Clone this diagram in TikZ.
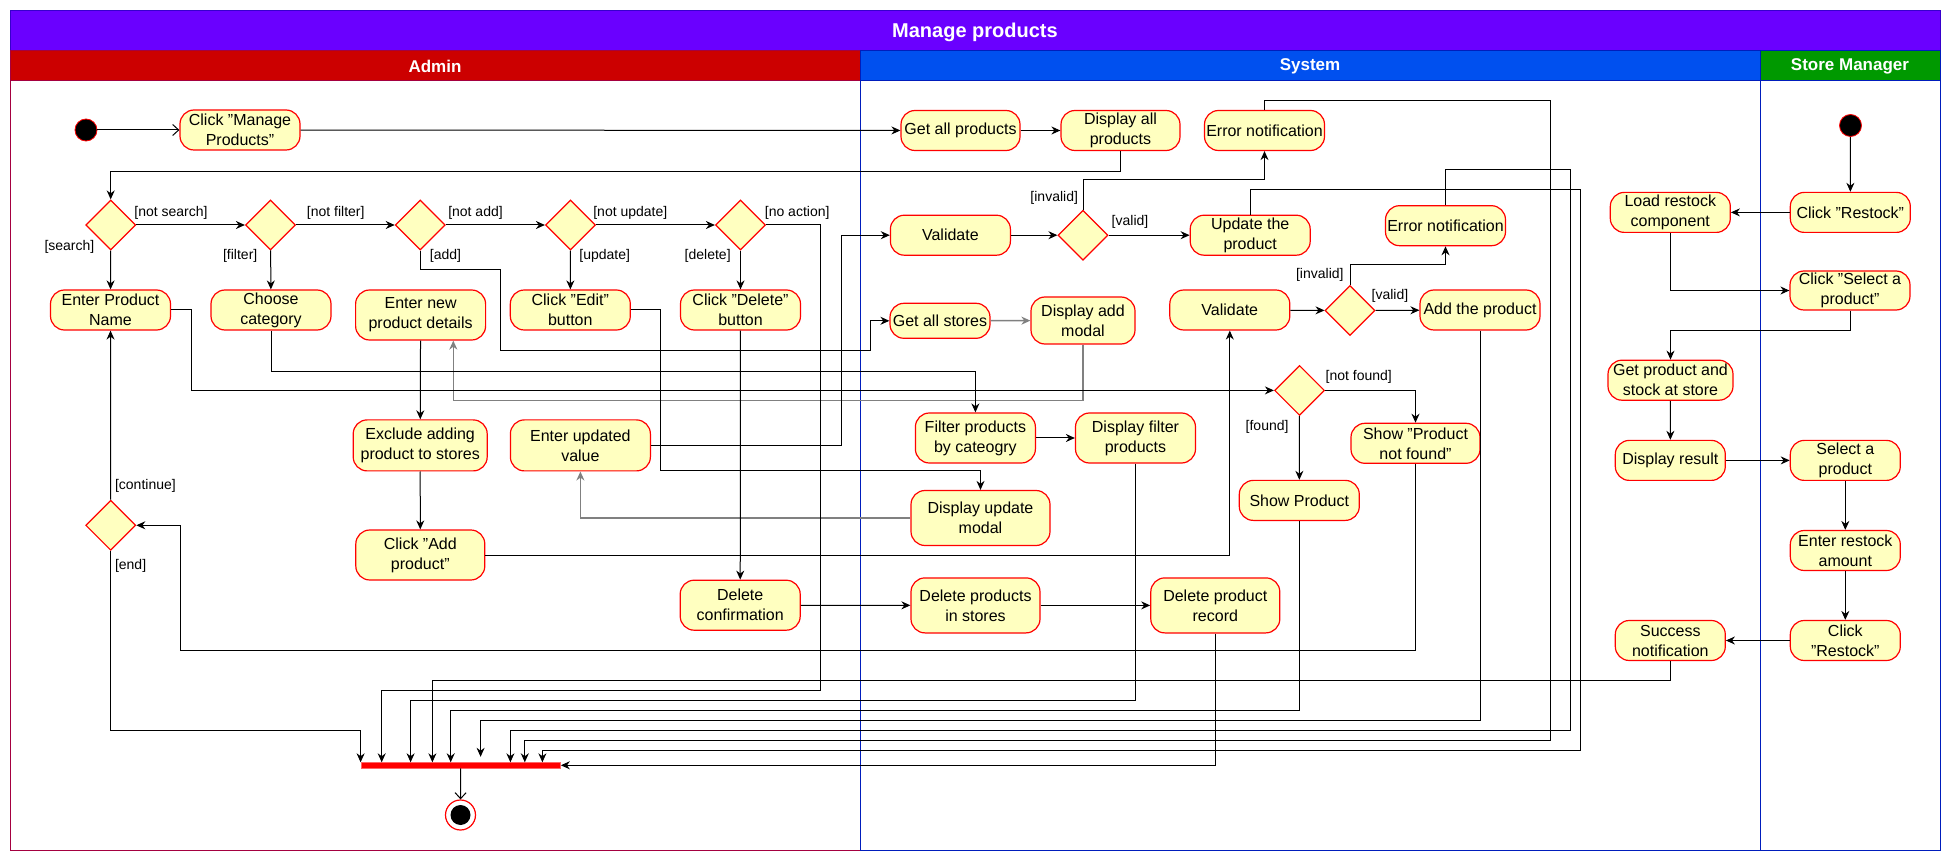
\documentclass[tikz,border=0pt]{standalone}
\usepackage{fontspec}
\setmainfont{Liberation Sans}
\usepackage{tikz}
\usetikzlibrary{shapes.geometric, arrows.meta, calc}
\usepackage{xcolor}
\definecolor{titleviolet}{RGB}{106,0,255}
\definecolor{titleline}{RGB}{55,0,204}
\definecolor{adminred}{RGB}{204,0,0}
\definecolor{adminline}{RGB}{165,0,64}
\definecolor{sysblue}{RGB}{0,80,239}
\definecolor{sysline}{RGB}{0,29,188}
\definecolor{mgrgreen}{RGB}{0,153,0}
\definecolor{actfill}{RGB}{255,255,192}
\tikzset{
    act/.style={draw=red, fill=actfill, rounded corners=7pt, align=center, inner sep=0.5pt,
        minimum width=60pt, minimum height=20pt, line width=0.6pt, font=\fontsize{8}{10}\selectfont},
    choice/.style={diamond, draw=red, fill=actfill, minimum width=25pt, minimum height=25pt,
        inner sep=0pt, line width=0.6pt},
    init/.style={circle, draw=red, fill=black, minimum size=11pt, inner sep=0pt},
    final/.style={circle, draw=red, fill=white, minimum size=15pt, inner sep=0pt, line width=0.6pt},
    bar/.style={fill=red, draw=red!60, minimum width=99.75pt, minimum height=2.6pt, inner sep=0pt},
    flow/.style={draw, line width=0.5pt, -{Stealth[length=4.5pt, width=4pt]}},
    grayflow/.style={flow, draw=gray, line width=0.8pt},
    openflow/.style={draw, line width=0.5pt, -{Straight Barb[length=3pt, width=5.5pt]}},
    lbl/.style={font=\fontsize{7}{8}\selectfont, inner sep=1pt},
    lanehead/.style={text=white, font=\bfseries\fontsize{8.5}{10}\selectfont}
}

\begin{document}
\begin{tikzpicture}[x=0.5pt, y=-0.5pt]
    \useasboundingbox (0,0) rectangle (1951,861);

    % Raias
    \draw[titleline, fill=titleviolet] (10,10) rectangle (1940,50);
    \draw[adminline, fill=adminred] (10,50) rectangle (860,80);
    \draw[adminline] (10,80) rectangle (860,850);
    \draw[sysline, fill=sysblue] (860,50) rectangle (1760,80);
    \draw[sysline] (860,80) rectangle (1760,850);
    \draw[sysline, fill=mgrgreen] (1760,50) rectangle (1940,80);
    \draw[sysline] (1760,80) rectangle (1940,850);
    \node[lanehead, font=\bfseries\fontsize{10}{12}\selectfont] (title) at (975,32) {Manage products};
    \node[lanehead] (hadmin) at (435,66) {Admin};
    \node[lanehead] (hsystem) at (1310,66) {System};
    \node[lanehead] (hmanager) at (1850,66) {Store Manager};

    % Admin
    \node[init] (start) at (86,130) {};
    \node[act] (clickmp) at (240,130) {Click "Manage\\Products"};
    \node[choice] (dsearch) at (110.7,225) {};
    \node[choice] (dfilter) at (270.5,225) {};
    \node[choice] (dadd) at (420.3,225) {};
    \node[choice] (dupdate) at (570.5,225) {};
    \node[choice] (ddelete) at (740.5,225) {};
    \node[act] (enterpn) at (110.5,310) {Enter Product\\Name};
    \node[act] (choosecat) at (271,310) {Choose\\category};
    \node[act, minimum width=65pt, minimum height=25pt] (enternew) at (420.6,315) {Enter new\\product details};
    \node[act] (clickedit) at (570.3,310) {Click "Edit"\\button};
    \node[act] (clickdel) at (740.5,310) {Click "Delete"\\button};
    \node[act, minimum width=67pt, minimum height=25.5pt] (exclude) at (420.2,445.4) {Exclude adding\\product to stores};
    \node[act, minimum width=70pt, minimum height=25.5pt] (enterupd) at (580.4,445.4) {Enter updated\\value};
    \node[act, minimum width=64.5pt, minimum height=25pt] (clickadd) at (420.3,555) {Click "Add\\product"};
    \node[act, minimum height=25pt] (delconf) at (740.2,605.2) {Delete\\confirmation};
    \node[choice] (dcont) at (110.7,525.3) {};
    \node[bar] (sync) at (460.7,765.3) {};
    \node[final] (finish) at (460.5,815) {};
    \fill (finish.center) circle (5pt);

    % System
    \node[act, minimum width=59.5pt] (getall) at (960.5,130.5) {Get all products};
    \node[act, minimum width=59.5pt] (dispall) at (1120.5,130.5) {Display all\\products};
    \node[act] (errn1) at (1264.5,130.5) {Error notification};
    \node[act] (val1) at (950.4,235.2) {Validate};
    \node[choice] (dval1) at (1083,235.2) {};
    \node[act] (update) at (1250.2,235.2) {Update the\\product};
    \node[act] (errn2) at (1445.5,225.7) {Error notification};
    \node[act, minimum width=50pt, minimum height=17.5pt] (getstores) at (940,320.8) {Get all stores};
    \node[act, minimum width=52pt, minimum height=23.5pt] (dispadd) at (1083,320.5) {Display add\\modal};
    \node[act] (val2) at (1229.8,310) {Validate};
    \node[choice] (dval2) at (1350,310.5) {};
    \node[act] (addprod) at (1480,310) {Add the product};
    \node[choice] (dfound) at (1299.5,390.4) {};
    \node[act, minimum width=64.5pt] (shownf) at (1415.5,443.3) {Show "Product\\not found"};
    \node[act] (showp) at (1299.3,500.4) {Show Product};
    \node[act, minimum height=25pt] (filterp) at (975.4,438) {Filter products\\by cateogry};
    \node[act, minimum height=25pt] (dispfilt) at (1135.5,438) {Display filter\\products};
    \node[act, minimum width=69.5pt, minimum height=27.5pt] (dispupd) at (980.5,518) {Display update\\modal};
    \node[act, minimum width=64.5pt, minimum height=27.5pt] (delstores) at (975.5,605.4) {Delete products\\in stores};
    \node[act, minimum width=64.5pt, minimum height=27.5pt] (delrec) at (1215.3,605.4) {Delete product\\record};

    % Store Manager
    \node[init] (mgrstart) at (1850.5,125.5) {};
    \node[act] (clickrs) at (1850.3,212.4) {Click "Restock"};
    \node[act] (loadrs) at (1670.3,212.4) {Load restock\\component};
    \node[act, minimum height=19.5pt] (clicksel) at (1850,290.5) {Click "Select a\\product"};
    \node[act, minimum width=62.5pt] (getstock) at (1670.5,380.2) {Get product and\\stock at store};
    \node[act, minimum width=55pt] (dispres) at (1670.3,460.4) {Display result};
    \node[act, minimum width=55pt] (selectp) at (1845.3,460.4) {Select a\\product};
    \node[act, minimum width=55pt] (enteramt) at (1845.3,550.5) {Enter restock\\amount};
    \node[act, minimum width=55pt] (clickrs2) at (1845.3,640.5) {Click\\"Restock"};
    \node[act, minimum width=55pt] (success) at (1670.3,640.5) {Success\\notification};

    % Fluxos
    \draw[openflow] (start) -- (clickmp);
    \draw[flow] (clickmp) -- (getall);
    \draw[flow] (getall) -- (dispall);
    \draw[flow] (dispall.south) -- ++(0,20) -| (dsearch.north);
    \draw[flow] (dsearch) -- (dfilter);
    \draw[flow] (dfilter) -- (dadd);
    \draw[flow] (dadd) -- (dupdate);
    \draw[flow] (dupdate) -- (ddelete);
    \draw[flow] (dsearch) -- (enterpn);
    \draw[flow] (dfilter) -- (choosecat);
    \draw[flow] (dupdate) -- (clickedit);
    \draw[flow] (ddelete) -- (clickdel);
    \draw[flow] (dadd.south) |- (500.5,270) |- (870.5,350.5) |- (getstores.west);
    \draw[grayflow] (getstores) -- (dispadd);
    \draw[grayflow] (dispadd.south) |- (453.3,400.4) -- (453.3,0 |- enternew.south);
    \draw[flow] (enternew) -- (exclude);
    \draw[flow] (exclude) -- (clickadd);
    \draw[flow] (clickedit.east) -| (660.3,470.8) -| (dispupd.north);
    \draw[grayflow] (dispupd.west) -| (enterupd.south);
    \draw[flow] (enterupd.east) -- ++(190,0) |- (val1.west);
    \draw[flow] (val1) -- (dval1);
    \draw[flow] (dval1) -- (update);
    \draw[flow] (dval1.north) -- ++(0,-30) -| (errn1.south);
    \draw[flow] (clickadd.east) -| (val2.south);
    \draw[flow] (val2) -- (dval2);
    \draw[flow] (dval2) -- (addprod);
    \draw[flow] (dval2.north) -- ++(0,-20) -| (errn2.south);
    \draw[flow] (enterpn.east) -- ++(20,0) |- (dfound.west);
    \draw[flow] (dfound.east) -| (shownf.north);
    \draw[flow] (dfound) -- (showp);
    \draw[flow] (choosecat.south) -- ++(0,40.7) -| (filterp.north);
    \draw[flow] (filterp) -- (dispfilt);
    \draw[flow] (clickdel) -- (delconf);
    \draw[flow] (delconf) -- (delstores);
    \draw[flow] (delstores) -- (delrec);
    \draw[flow] (shownf.south) |- (180.3,650.2) |- (dcont.east);
    \draw[flow] (dcont) -- (enterpn);

    % Barra de sincronizacao
    \draw[flow] (dcont.south) |- (360.6,730.3) -- (360.6,0 |- sync.north);
    \draw[flow] (ddelete.east) -| (820,690.3) -| (381.7,0 |- sync.north);
    \draw[flow] (dispfilt.south) |- (410.6,700.3) -- (410.6,0 |- sync.north);
    \draw[flow] (success.south) |- (432.4,680.3) -- (432.4,0 |- sync.north);
    \draw[flow] (showp.south) |- (450.7,710.3) -- (450.7,0 |- sync.north);
    \draw[flow] (addprod.south) |- (480.6,720.3) -- ++(0,36.5);
    \draw[flow] (errn2.north) |- (1570.5,170) |- (510.4,730.3) -- (510.4,0 |- sync.north);
    \draw[flow] (errn1.north) |- (1550.5,100.7) |- (524.8,740.3) -- (524.8,0 |- sync.north);
    \draw[flow] (update.north) |- (1580.4,190) |- (542.4,750.3) -- (542.4,0 |- sync.north);
    \draw[flow] (delrec.south) |- (sync.east);
    \draw[openflow] (sync) -- (finish);

    % Store Manager
    \draw[flow] (mgrstart) -- (clickrs);
    \draw[flow] (clickrs) -- (loadrs);
    \draw[flow] (loadrs.south) |- (clicksel.west);
    \draw[flow] (clicksel.south) -- ++(0,20) -| (getstock.north);
    \draw[flow] (getstock) -- (dispres);
    \draw[flow] (dispres) -- (selectp);
    \draw[flow] (selectp) -- (enteramt);
    \draw[flow] (enteramt) -- (clickrs2);
    \draw[flow] (clickrs2) -- (success);

    % Guardas
    \node[lbl] (gnotsearch) at (171,213) {[not search]};
    \node[lbl] (gsearch) at (69.4,246.7) {[search]};
    \node[lbl] (gnotfilter) at (335.7,213) {[not filter]};
    \node[lbl] (gfilter) at (240.2,255.7) {[filter]};
    \node[lbl] (gnotadd) at (475.5,213) {[not add]};
    \node[lbl] (gadd) at (445.5,255.7) {[add]};
    \node[lbl] (gnotupdate) at (630.3,213) {[not update]};
    \node[lbl] (gupdate) at (604.7,255.7) {[update]};
    \node[lbl] (gnoaction) at (797.2,213) {[no action]};
    \node[lbl] (gdelete) at (707.7,255.7) {[delete]};
    \node[lbl] (ginvalid1) at (1054.2,198.3) {[invalid]};
    \node[lbl] (gvalid1) at (1130,221.7) {[valid]};
    \node[lbl] (ginvalid2) at (1319.8,275) {[invalid]};
    \node[lbl] (gvalid2) at (1389.9,296) {[valid]};
    \node[lbl] (gnotfound) at (1358.7,377.3) {[not found]};
    \node[lbl] (gfound) at (1267.1,427) {[found]};
    \node[lbl] (gcontinue) at (145.4,485.6) {[continue]};
    \node[lbl] (gend) at (130.6,565.7) {[end]};
\end{tikzpicture}
\end{document}
